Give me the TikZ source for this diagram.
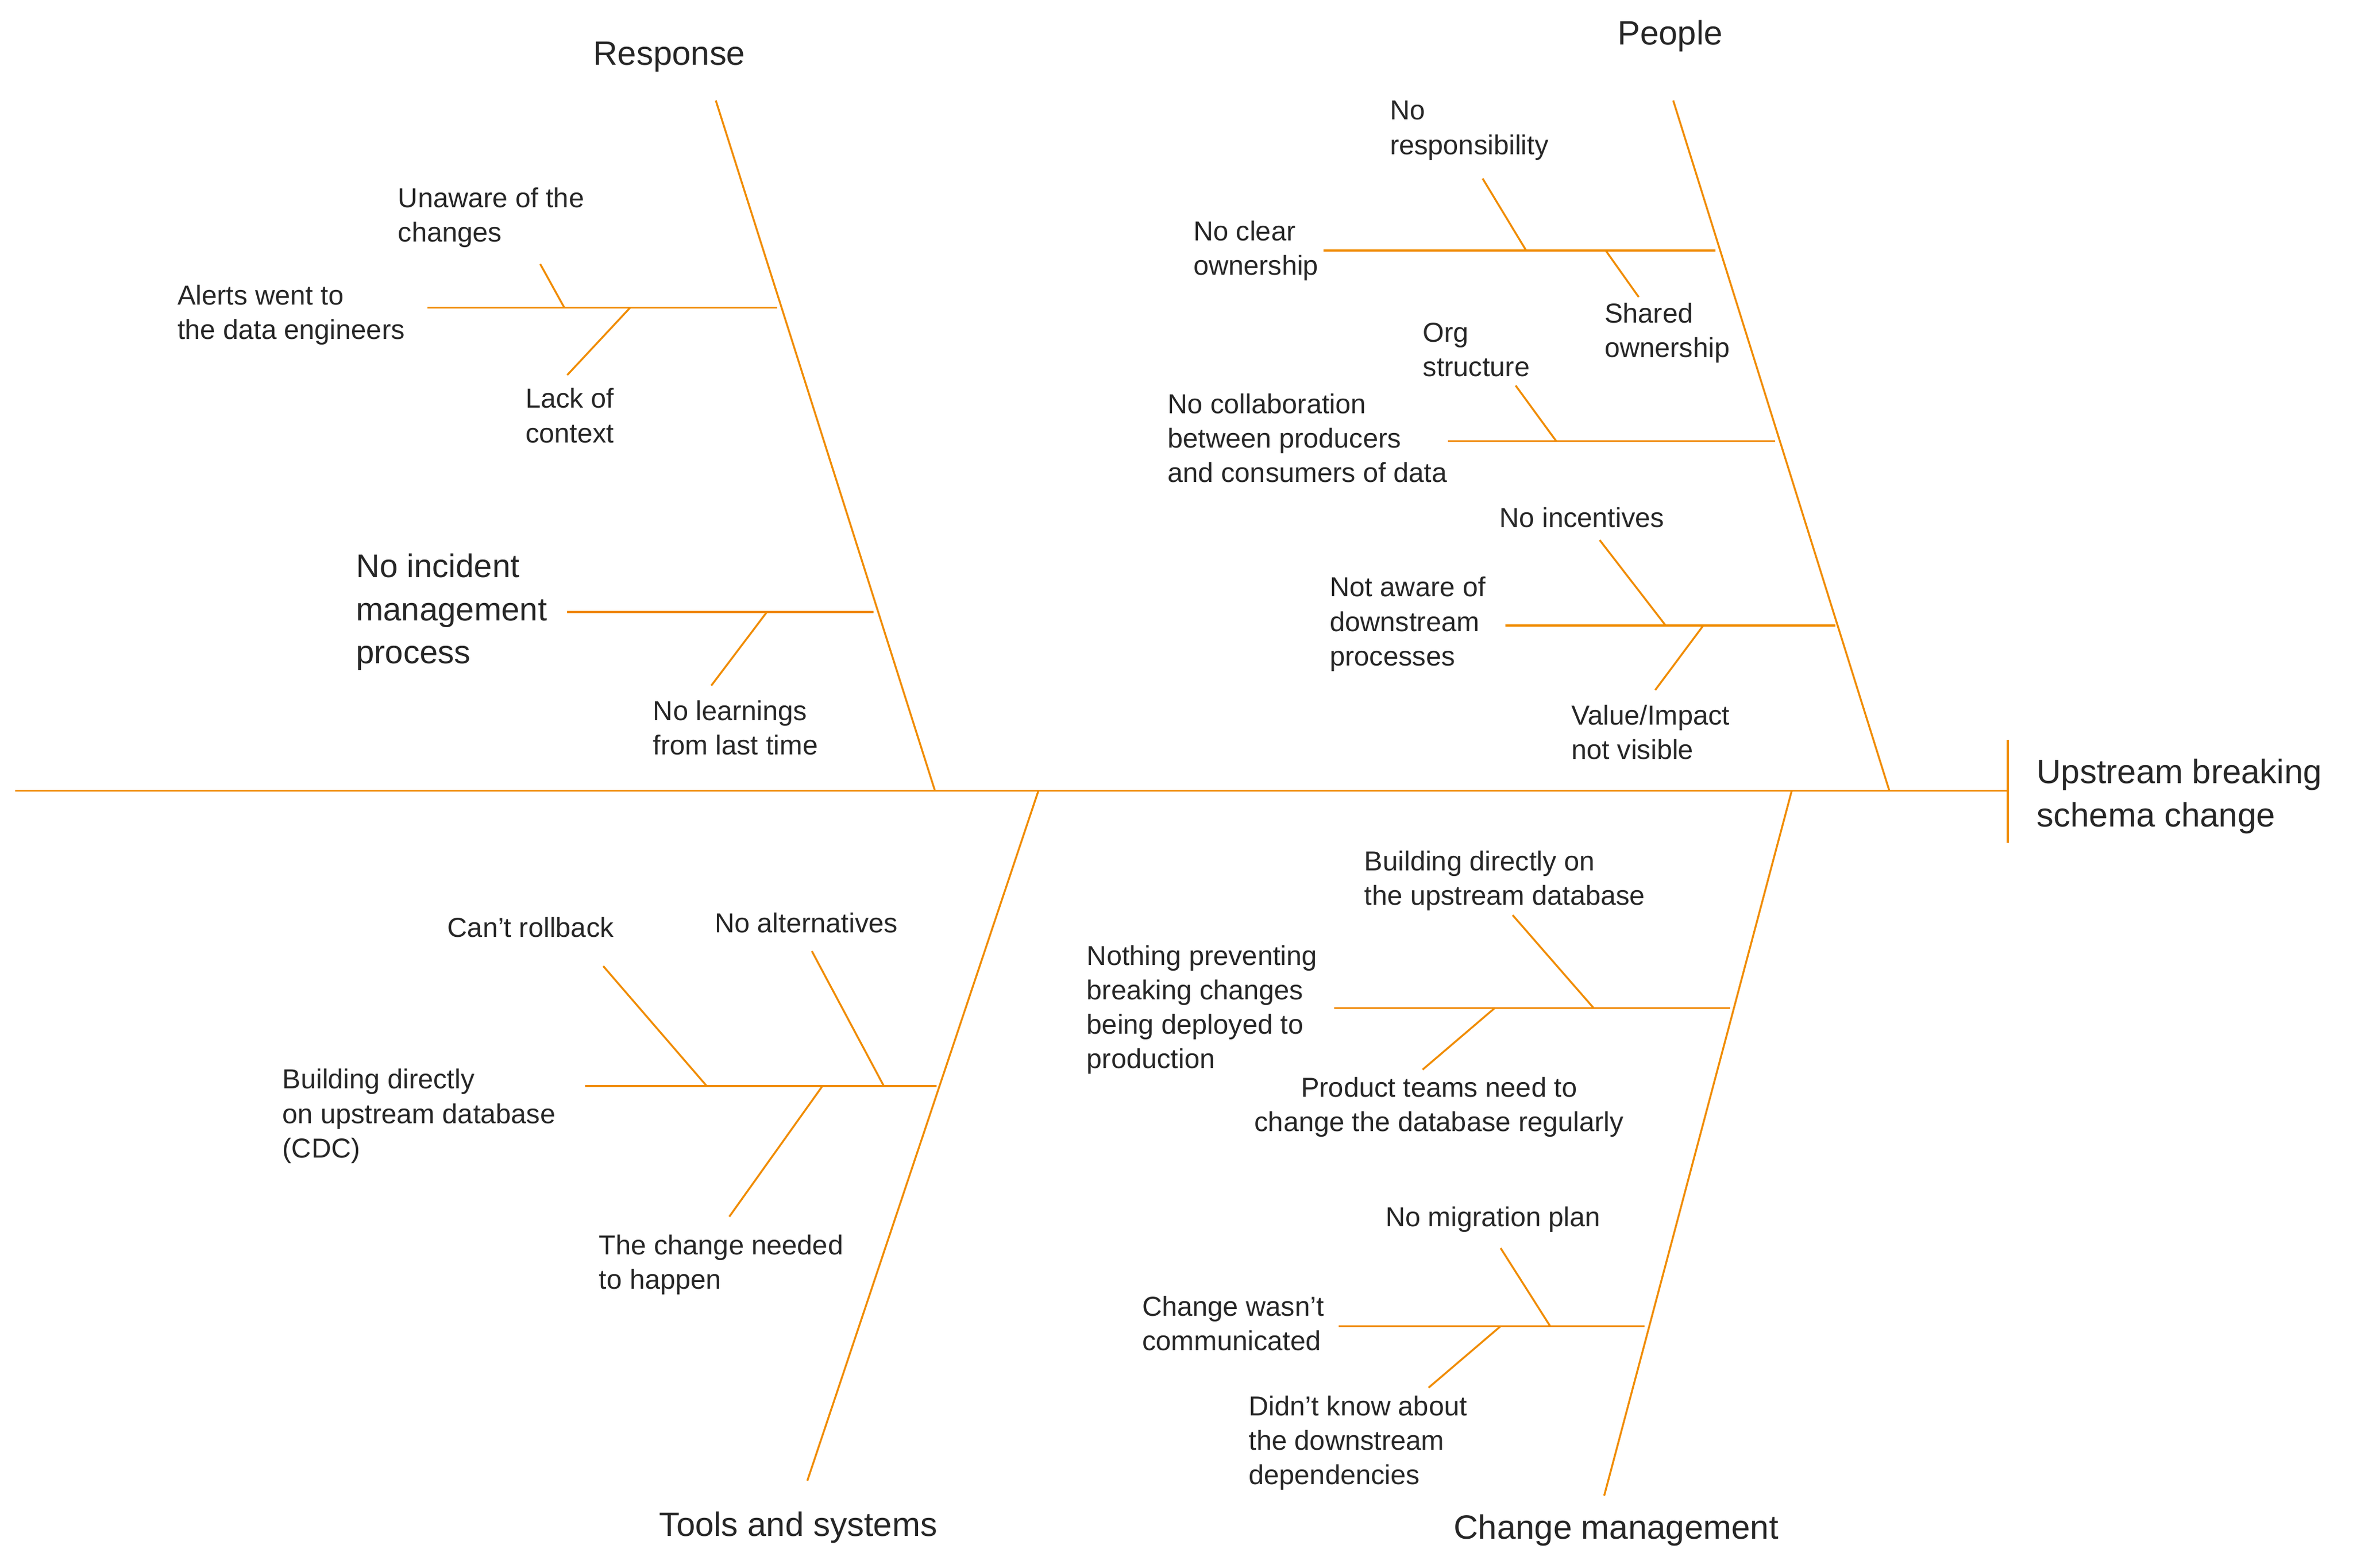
\documentclass[tikz,border=0pt]{standalone}
\usepackage{fontspec}
\setmainfont{Liberation Sans}
\begin{document}
\begin{tikzpicture}[x=0.025cm,y=-0.025cm]
\definecolor{bone}{HTML}{F08C00}
\tikzset{ln/.style={draw=bone,line width=0.9pt},
 t/.style={font=\fontsize{13}{16.3}\selectfont,align=left,inner sep=0pt,anchor=west,text=black!85},
 tc/.style={t,align=center,anchor=center},
 big/.style={font=\fontsize{16}{20.5}\selectfont,align=left,inner sep=0pt,text=black!85}}
\useasboundingbox (0,0) rectangle (1568,1045);
% spine
\coordinate (s0) at (10,527); \coordinate (s1) at (1338,527);
\draw[ln] (s0) -- (s1);
\draw[ln] (1338,493) coordinate(h0) -- (1338,562) coordinate(h1);
\node[big,anchor=west] (head) at (1357,531) {Upstream breaking\\schema change};
% Response
\coordinate (r0) at (477,67); \coordinate (r1) at (623,527);
\draw[ln] (r0) -- (r1);
\node[big] (resp) at (446,38) {Response};
\coordinate (a0) at (285,205); \coordinate (a1) at (518,205); \draw[ln] (a0)--(a1);
\node[t] (alerts) at (118,210) {Alerts went to\\the data engineers};
\coordinate (a2) at (376,205); \coordinate (a3) at (360,176); \draw[ln] (a2)--(a3);
\node[t] (unaware) at (265,145) {Unaware of the\\changes};
\coordinate (a4) at (420,205); \coordinate (a5) at (378,250); \draw[ln] (a4)--(a5);
\node[t] (lack) at (350,277) {Lack of\\context};
\coordinate (b0) at (378,408); \coordinate (b1) at (582,408); \draw[ln] (b0)--(b1);
\node[big,anchor=west,font=\fontsize{15.5}{20.5}\selectfont] (noinc) at (237,408) {No incident\\management\\process};
\coordinate (b2) at (511,408); \coordinate (b3) at (474,457); \draw[ln] (b2)--(b3);
\node[t] (nolearn) at (435,485) {No learnings\\from last time};
% People
\coordinate (p0) at (1115,67); \coordinate (p1) at (1259,527); \draw[ln] (p0)--(p1);
\node[big] (people) at (1113,24) {People};
\coordinate (c0) at (882,167); \coordinate (c1) at (1143,167); \draw[ln] (c0)--(c1);
\node[t] (noclear) at (795,167) {No clear\\ownership};
\coordinate (c2) at (1017,167); \coordinate (c3) at (988,119); \draw[ln] (c2)--(c3);
\node[t] (noresp) at (926,87) {No\\responsibility};
\coordinate (c4) at (1070,167); \coordinate (c5) at (1092,198); \draw[ln] (c4)--(c5);
\node[t] (shared) at (1069,222) {Shared\\ownership};
\coordinate (d0) at (965,294); \coordinate (d1) at (1183,294); \draw[ln] (d0)--(d1);
\node[t] (nocollab) at (778,292) {No collaboration\\between producers\\and consumers of data};
\coordinate (d2) at (1037,294); \coordinate (d3) at (1010,257); \draw[ln] (d2)--(d3);
\node[t] (org) at (948,233) {Org\\structure};
\coordinate (e0) at (1003,417); \coordinate (e1) at (1223,417); \draw[ln] (e0)--(e1);
\node[t] (notaware) at (886,416) {Not aware of\\downstream\\processes};
\coordinate (e2) at (1110,417); \coordinate (e3) at (1066,360); \draw[ln] (e2)--(e3);
\node[t] (noinc2) at (999,345) {No incentives};
\coordinate (e4) at (1135,417); \coordinate (e5) at (1103,460); \draw[ln] (e4)--(e5);
\node[t] (value) at (1047,488) {Value/Impact\\not visible};
% Tools
\coordinate (q0) at (692,527); \coordinate (q1) at (538,987); \draw[ln] (q0)--(q1);
\node[big] (tools) at (532,1018) {Tools and systems};
\coordinate (f0) at (390,724); \coordinate (f1) at (624,724); \draw[ln] (f0)--(f1);
\node[t] (bdir) at (188,744) {Building directly\\on upstream database\\(CDC)};
\coordinate (f2) at (471,724); \coordinate (f3) at (402,644); \draw[ln] (f2)--(f3);
\node[t] (rollback) at (298,618) {Can't rollback};
\coordinate (f4) at (589,724); \coordinate (f5) at (541,634); \draw[ln] (f4)--(f5);
\node[t] (noalt) at (476,615) {No alternatives};
\coordinate (f6) at (548,724); \coordinate (f7) at (486,811); \draw[ln] (f6)--(f7);
\node[t] (needed) at (399,843) {The change needed\\to happen};
% Change management
\coordinate (m0) at (1194,527); \coordinate (m1) at (1069,997); \draw[ln] (m0)--(m1);
\node[big] (chg) at (1077,1020) {Change management};
\coordinate (g0) at (889,672); \coordinate (g1) at (1153,672); \draw[ln] (g0)--(g1);
\node[t] (nothing) at (724,673) {Nothing preventing\\breaking changes\\being deployed to\\production};
\coordinate (g2) at (1062,672); \coordinate (g3) at (1008,610); \draw[ln] (g2)--(g3);
\node[t] (bdir2) at (909,587) {Building directly on\\the upstream database};
\coordinate (g4) at (996,672); \coordinate (g5) at (948,713); \draw[ln] (g4)--(g5);
\node[tc] (prod) at (959,738) {Product teams need to\\change the database regularly};
\coordinate (k0) at (892,884); \coordinate (k1) at (1096,884); \draw[ln] (k0)--(k1);
\node[t] (comm) at (761,882) {Change wasn't\\communicated};
\coordinate (k2) at (1033,884); \coordinate (k3) at (1000,832); \draw[ln] (k2)--(k3);
\node[t] (nomig) at (923,813) {No migration plan};
\coordinate (k4) at (1000,884); \coordinate (k5) at (952,925); \draw[ln] (k4)--(k5);
\node[t] (didnt) at (832,962) {Didn't know about\\the downstream\\dependencies};
\end{tikzpicture}
\end{document}
